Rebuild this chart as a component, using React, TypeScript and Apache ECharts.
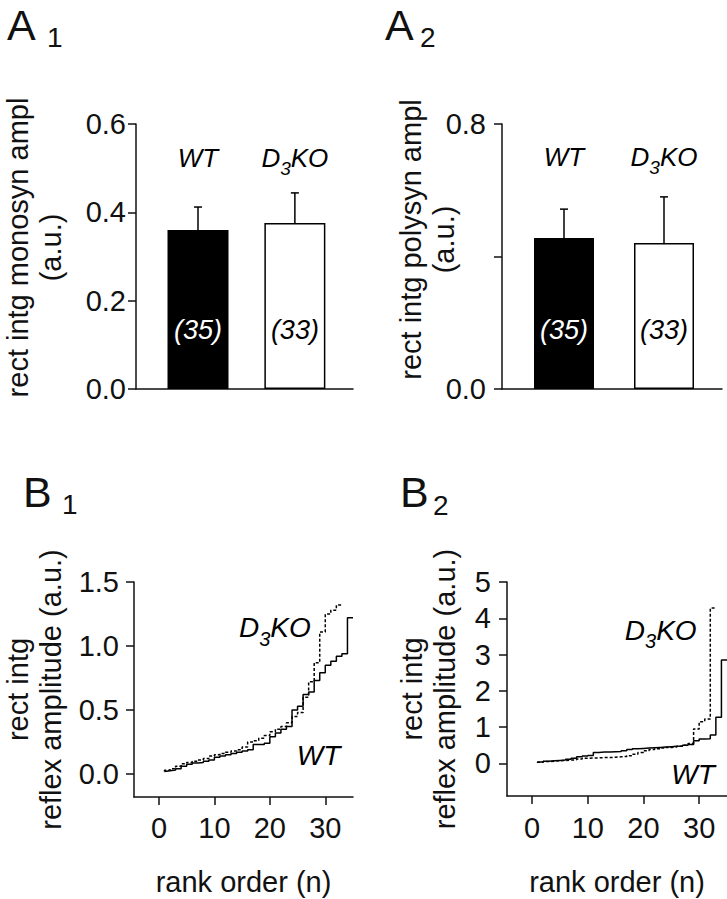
import React, { useEffect, useRef } from "react";
import * as echarts from "echarts";

// ---------- data ----------
const groups = ["WT", "D3KO"];
const nCounts = [35, 33];
const monoMean = [0.36, 0.376];
const monoSem = [0.052, 0.068];
const polyMean = [0.456, 0.441];
const polySem = [0.087, 0.139];

const monoTicks = [0, 0.2, 0.4, 0.6];
const polyTickLabels = [0, 0.8];
const b1YTicks = [0, 0.5, 1.0, 1.5];
const b2YTicks = [0, 1, 2, 3, 4, 5];
const rankTicks = [0, 10, 20, 30];

// rank-ordered amplitudes (B1: monosynaptic, B2: polysynaptic)
const b1WT = [0.02, 0.025, 0.03, 0.04, 0.06, 0.075, 0.085, 0.09, 0.1, 0.11, 0.13, 0.14, 0.15, 0.16, 0.17, 0.18, 0.19, 0.23, 0.23, 0.24, 0.29, 0.32, 0.35, 0.37, 0.5, 0.53, 0.62, 0.64, 0.73, 0.79, 0.85, 0.88, 0.92, 0.94, 1.22];
const b1KO = [0.02, 0.03, 0.04, 0.06, 0.08, 0.09, 0.1, 0.11, 0.12, 0.14, 0.15, 0.16, 0.17, 0.18, 0.19, 0.21, 0.25, 0.26, 0.28, 0.3, 0.33, 0.35, 0.37, 0.4, 0.45, 0.48, 0.6, 0.72, 0.87, 1.11, 1.25, 1.28, 1.32];
const b2WT = [0.02, 0.04, 0.06, 0.07, 0.08, 0.09, 0.11, 0.14, 0.18, 0.2, 0.22, 0.3, 0.31, 0.31, 0.32, 0.33, 0.35, 0.38, 0.4, 0.41, 0.42, 0.43, 0.44, 0.45, 0.46, 0.47, 0.48, 0.5, 0.52, 0.62, 0.67, 0.68, 0.78, 1.27, 2.85];
const b2KO = [0.01, 0.03, 0.05, 0.06, 0.07, 0.08, 0.09, 0.1, 0.12, 0.14, 0.15, 0.15, 0.16, 0.16, 0.17, 0.18, 0.19, 0.21, 0.25, 0.3, 0.35, 0.38, 0.4, 0.42, 0.44, 0.45, 0.47, 0.5, 0.55, 0.95, 1.15, 1.22, 4.28];

// ---------- styling ----------
const FONT = '"Liberation Sans", Arial, Helvetica, sans-serif';
const INK = "#000";
const AXIS_LINE = { show: true, onZero: false, lineStyle: { color: "#111", width: 1.5 } };

const richFor = (main: number, sub: number) => ({
  m: {
    fontSize: main,
    fontStyle: "italic",
    fontFamily: FONT,
    color: INK,
    opacity: 1,
    lineHeight: main + 4,
    padding: [0, 0, Math.round(main * 0.3), 0],
    verticalAlign: "top",
  },
  s: {
    fontSize: sub,
    fontStyle: "italic",
    fontFamily: FONT,
    color: INK,
    opacity: 1,
    lineHeight: sub + 6,
    padding: [Math.round(main * 0.52), 0, 0, 0],
    verticalAlign: "top",
  },
});

const groupLabel = (g: string) =>
  g === "D3KO" ? "{m|D}{s|3}{m|KO}" : `{m|${g}}`;

function barPanel(
  idx: number,
  mean: number[],
  sem: number[],
  barWidth: number,
  titleY: number,
  fontMain: number
) {
  const bar = {
    type: "bar",
    xAxisIndex: idx,
    yAxisIndex: idx,
    barWidth,
    silent: true,
    data: mean.map((v, i) => ({
      value: [i, v],
      itemStyle: {
        color: i === 0 ? "#000" : "#fff",
        borderColor: "#000",
        borderWidth: 1.5,
      },
      label: { color: i === 0 ? "#fff" : INK },
    })),
    label: {
      show: true,
      position: "insideBottom",
      distance: 44,
      fontSize: 27,
      lineHeight: 30,
      fontStyle: "italic",
      fontFamily: FONT,
      formatter: (p: any) => `(${nCounts[p.dataIndex]})`,
    },
    z: 2,
  };
  const err = {
    type: "custom",
    xAxisIndex: idx,
    yAxisIndex: idx,
    silent: true,
    z: 3,
    data: mean.map((v, i) => [i, v, sem[i]]),
    encode: { x: 0, y: 1 },
    renderItem: (_params: any, api: any) => {
      const x = api.value(0);
      const m = api.value(1);
      const e = api.value(2);
      const p0 = api.coord([x, m]);
      const p1 = api.coord([x, m + e]);
      const st = { stroke: "#000", lineWidth: 1.5 };
      return {
        type: "group",
        children: [
          { type: "line", shape: { x1: p0[0], y1: p0[1], x2: p1[0], y2: p1[1] }, style: st },
          { type: "line", shape: { x1: p1[0] - 4, y1: p1[1], x2: p1[0] + 4, y2: p1[1] }, style: st },
        ],
      };
    },
  };
  const titles = {
    type: "scatter",
    xAxisIndex: idx,
    yAxisIndex: idx,
    silent: true,
    symbolSize: 1,
    itemStyle: { color: "transparent", opacity: 1 },
    data: groups.map((_g, i) => [i, titleY]),
    label: {
      show: true,
      position: "inside",
      color: INK,
      opacity: 1,
      textBorderWidth: 0,
      formatter: (p: any) => groupLabel(groups[p.dataIndex]),
      rich: richFor(fontMain, Math.round(fontMain * 0.72)),
    },
    z: 4,
  };
  return [bar, err, titles];
}

function stepSeries(idx: number, values: number[], dashed: boolean, name: string) {
  return {
    type: "line",
    name,
    xAxisIndex: idx,
    yAxisIndex: idx,
    step: "start",
    symbol: "none",
    silent: true,
    data: values.map((v, i) => [i + 1, v]),
    lineStyle: { color: "#000", width: 1.5, type: dashed ? [3, 2] : "solid" },
  };
}

function curveLabels(idx: number, pts: number[][]) {
  return {
    type: "scatter",
    xAxisIndex: idx,
    yAxisIndex: idx,
    silent: true,
    symbolSize: 1,
    itemStyle: { color: "transparent", opacity: 1 },
    data: pts,
    label: {
      show: true,
      position: "inside",
      color: INK,
      opacity: 1,
      textBorderWidth: 0,
      formatter: (p: any) => groupLabel(groups[p.dataIndex]),
      rich: richFor(28, 20),
    },
    z: 4,
  };
}

const tickStyle = { show: true, length: 8, lineStyle: { color: "#111", width: 1.5 } };
const labelStyle = (margin: number) => ({
  fontSize: 29,
  fontFamily: FONT,
  color: "#111",
  margin,
});
const nameStyle = (pad: number[]) => ({
  fontSize: 29,
  lineHeight: 33,
  fontFamily: FONT,
  color: "#111",
  padding: pad,
});

export default function App() {
  const ref = useRef<HTMLDivElement>(null);
  useEffect(() => {
    document.body.style.margin = "0";
    if (!ref.current) return;
    const chart = echarts.init(ref.current, undefined, { renderer: "svg" });

    const letter = (x: number, y: number, t: string, size: number) => ({
      type: "text",
      x,
      y,
      silent: true,
      style: {
        text: t,
        fontSize: size,
        fontFamily: FONT,
        fill: "#111",
        align: "left",
        verticalAlign: "middle",
      },
    });

    const yName = (text: string, gap: number, pad: number[]) => ({
      name: text,
      nameLocation: "middle",
      nameRotate: 90,
      nameGap: gap,
      nameMoveOverlap: false,
      nameTextStyle: nameStyle(pad),
    });

    const option: any = {
      animation: false,
      textStyle: { fontFamily: FONT },
      grid: [
        { left: 133, top: 124, width: 220, height: 265 },
        { left: 502, top: 124, width: 220, height: 265 },
        { left: 133, top: 582, width: 220, height: 219 },
        { left: 507, top: 582, width: 220, height: 218 },
      ],
      xAxis: [
        { gridIndex: 0, type: "value", min: -0.64, max: 1.6, axisLine: AXIS_LINE, axisTick: { show: false }, axisLabel: { show: false }, splitLine: { show: false } },
        { gridIndex: 1, type: "value", min: -0.62, max: 1.58, axisLine: AXIS_LINE, axisTick: { show: false }, axisLabel: { show: false }, splitLine: { show: false } },
        {
          gridIndex: 2, type: "value", min: -4.5, max: 35,
          axisLine: AXIS_LINE,
          axisTick: { ...tickStyle, customValues: rankTicks },
          axisLabel: { ...labelStyle(16), customValues: rankTicks, formatter: (v: number) => String(v) },
          splitLine: { show: false },
          name: "rank order (n)", nameLocation: "middle", nameGap: 68, nameMoveOverlap: false, nameTextStyle: nameStyle([0, 0, 0, 0]),
        },
        {
          gridIndex: 3, type: "value", min: -4.5, max: 35,
          axisLine: AXIS_LINE,
          axisTick: { ...tickStyle, customValues: rankTicks },
          axisLabel: { ...labelStyle(17), customValues: rankTicks, formatter: (v: number) => String(v) },
          splitLine: { show: false },
          name: "rank order (n)", nameLocation: "middle", nameGap: 69, nameMoveOverlap: false, nameTextStyle: nameStyle([0, 0, 0, 0]),
        },
      ],
      yAxis: [
        {
          gridIndex: 0, type: "value", min: 0, max: 0.6, interval: 0.2,
          axisLine: AXIS_LINE, axisTick: tickStyle,
          axisLabel: { ...labelStyle(10), customValues: monoTicks, formatter: (v: number) => v.toFixed(1) },
          splitLine: { show: false },
          ...yName("rect intg monosyn ampl\n(a.u.)", 69, [0, 0, 0, 18]),
        },
        {
          gridIndex: 1, type: "value", min: 0, max: 0.8, interval: 0.4,
          axisLine: AXIS_LINE, axisTick: tickStyle,
          axisLabel: { ...labelStyle(16), customValues: polyTickLabels, formatter: (v: number) => v.toFixed(1) },
          splitLine: { show: false },
          ...yName("rect intg polysyn ampl\n(a.u.)", 42, [0, 0, 0, 34]),
        },
        {
          gridIndex: 2, type: "value", min: -0.18, max: 1.5,
          axisLine: AXIS_LINE,
          axisTick: { ...tickStyle, customValues: b1YTicks },
          axisLabel: { ...labelStyle(15), customValues: b1YTicks, formatter: (v: number) => v.toFixed(1) },
          splitLine: { show: false },
          ...yName("rect intg\nreflex amplitude (a.u.)", 67, [0, 0, 0, 0]),
        },
        {
          gridIndex: 3, type: "value", min: -0.9, max: 5,
          axisLine: AXIS_LINE,
          axisTick: { ...tickStyle, customValues: b2YTicks },
          axisLabel: { ...labelStyle(16), customValues: b2YTicks, formatter: (v: number) => String(v) },
          splitLine: { show: false },
          ...yName("rect intg\nreflex amplitude (a.u.)", 46, [0, 0, 0, 0]),
        },
      ],
      series: [
        ...barPanel(0, monoMean, monoSem, 61, 0.518, 26),
        ...barPanel(1, polyMean, polySem, 60, 0.695, 26),
        stepSeries(2, b1WT, false, "WT"),
        stepSeries(2, b1KO, true, "D3KO"),
        curveLabels(2, [[28.8, 0.13], [20.9, 1.125]]),
        stepSeries(3, b2WT, false, "WT"),
        stepSeries(3, b2KO, true, "D3KO"),
        curveLabels(3, [[28.9, -0.365], [23.1, 3.61]]),
      ],
      graphic: [
        letter(7, 25, "A", 43),
        letter(47, 37, "1", 28),
        letter(385, 25, "A", 43),
        letter(420, 37, "2", 28),
        letter(23, 492, "B", 43),
        letter(62, 504, "1", 28),
        letter(400, 492, "B", 43),
        letter(433, 505, "2", 28),
      ],
    };
    chart.setOption(option);
    return () => chart.dispose();
  }, []);
  return <div ref={ref} style={{ width: 727, height: 899 }} />;
}
